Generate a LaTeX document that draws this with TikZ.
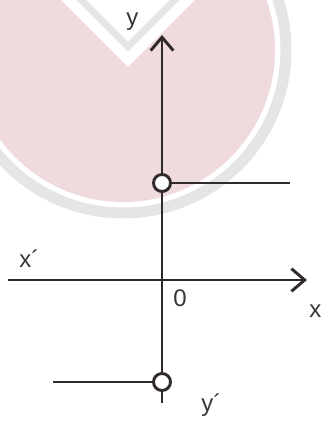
\documentclass[tikz,border=0pt]{standalone}
\usepackage{fontspec}
\setmainfont{Liberation Sans}
\usetikzlibrary{arrows.meta}
\definecolor{wmpink}{RGB}{239,219,221}
\definecolor{wmgray}{RGB}{229,229,229}
\definecolor{axiscol}{RGB}{48,42,42}
\definecolor{labelcol}{RGB}{55,55,55}

\begin{document}
\begin{tikzpicture}[x=0.75pt, y=0.75pt, line width=2.2pt, draw=axiscol,
    >={Straight Barb[length=10pt,width=17pt]},
    lbl/.style={anchor=base west, inner sep=0pt, text=labelcol, font=\fontsize{18}{21}\selectfont}]
    \useasboundingbox (-162,-143) rectangle (158,280);
    % faint logo behind the axes
    \begin{scope}
        \clip (-162,-143) rectangle (158,280);
        \fill[wmpink] (-39,230) circle (152);
        \draw[wmgray, line width=8.25pt] (-39,230) circle (163);
        \fill[white] (-34,213) -- (-334,513) -- (266,513) -- cycle;
        \draw[wmgray, line width=5.25pt] (-184,383) -- (-34,233) -- (116,383);
    \end{scope}
    \coordinate (O) at (0,0);
    \coordinate (X) at (145,0);
    \coordinate (X_neg) at (-154,0);
    \coordinate (Y) at (0,245);
    \coordinate (Y_neg) at (0,-123);
    \coordinate (P) at (0,97);
    \coordinate (P_end) at (128,97);
    \coordinate (Q) at (0,-102);
    \coordinate (Q_end) at (-109,-102);
    \draw[->] (X_neg) -- (X);
    \draw[->] (Y_neg) -- (Y);
    \draw (P) -- (P_end);
    \draw (Q) -- (Q_end);
    \foreach \p in {P,Q} {\filldraw[fill=white] (\p) circle (8.5);}
    \node[lbl] (y_lab) at (-37,254) {y};
    \node[lbl] (yneg_lab) at (38,-131) {y´};
    \node[lbl] (x_lab) at (146,-38) {x};
    \node[lbl] (xneg_lab) at (-144,12) {x´};
    \node[lbl] (o_lab) at (10,-27) {0};
\end{tikzpicture}
\end{document}
